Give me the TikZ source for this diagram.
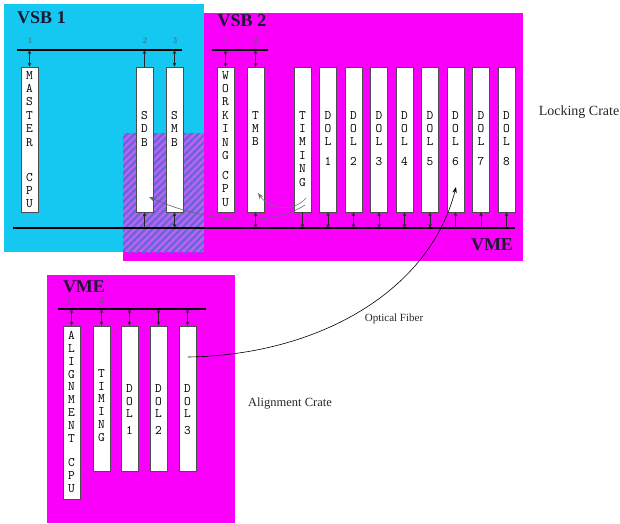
\documentclass[tikz,border=0pt]{standalone}
\usepackage{fontspec}
\setmainfont{Liberation Serif}
\usetikzlibrary{arrows.meta,patterns.meta}
\definecolor{cyanbg}{RGB}{20,200,242}
\definecolor{magbg}{RGB}{250,0,250}
\definecolor{hatchbg}{RGB}{185,100,235}
\definecolor{hatchln}{RGB}{100,100,225}
\definecolor{labclr}{RGB}{25,25,50}
\newcommand\cardfont{\ttfamily\fontsize{13}{13.4}\selectfont}
\newcommand\cardfontb{\ttfamily\fontsize{13}{12.9}\selectfont}
\begin{document}
\begin{tikzpicture}[x=1pt,y=-1pt,
  card/.style={draw=black!70, fill=white, line width=0.6pt, minimum width=17pt, inner sep=0pt},
  lcard/.style={card, minimum height=145pt},
  acard/.style={card, minimum height=145pt},
  ctxt/.style={font=\cardfont, align=center, inner sep=0pt, anchor=north},
  atxt/.style={font=\cardfontb, align=center, inner sep=0pt, anchor=north},
  bus/.style={line width=1.8pt, black},
  dbl/.style={{Stealth[length=4pt,width=3.5pt]}-{Stealth[length=4pt,width=3.5pt]}, line width=0.6pt, black!85},
  sgl/.style={-{Stealth[length=4pt,width=3.5pt]}, line width=0.6pt, black!85},
  curve/.style={-{Stealth[length=6pt,width=4.5pt]}, line width=0.6pt},
  bigl/.style={font=\bfseries\fontsize{18}{20}\selectfont, text=labclr, inner sep=0pt},
  numl/.style={font=\fontsize{8.5}{9}\selectfont, text=black!65, inner sep=0pt},
  crate/.style={text=black!85, inner sep=0pt}]
\useasboundingbox (0,0) rectangle (620,523);
% backgrounds
\fill[magbg] (123,13) rectangle (523,261);
\fill[cyanbg] (4,4) rectangle (204,252);
\fill[hatchbg] (123,133) rectangle (204,252);
\fill[pattern={Lines[angle=45,distance=5pt,line width=2.2pt]}, pattern color=hatchln] (123,133) rectangle (204,252);
\fill[magbg] (47,275) rectangle (235,523);

% titles
\node[bigl] (vsb1) at (41.5,17.5) {VSB 1};
\node[bigl] (vsb2) at (242,21) {VSB 2};
\node[bigl] (vme1) at (492,245) {VME};
\node[bigl] (vme2) at (84,287) {VME};
\node[crate, font=\fontsize{14}{16}\selectfont] (lock) at (579,112) {Locking Crate};
\node[crate, font=\fontsize{12.5}{15}\selectfont] (alig) at (290,404) {Alignment Crate};
\node[crate, font=\fontsize{11}{13}\selectfont] (opt) at (394,319) {Optical Fiber};

% buses
\coordinate (vsbAl) at (17,50);  \coordinate (vsbAr) at (182,50);
\coordinate (vsbBl) at (212,50); \coordinate (vsbBr) at (268,50);
\coordinate (vmeAl) at (13,228); \coordinate (vmeAr) at (515,228);
\coordinate (vmeBl) at (58,309); \coordinate (vmeBr) at (206,309);
\draw[bus] (vsbAl) -- (vsbAr);
\draw[bus] (vsbBl) -- (vsbBr);
\draw[bus] (vmeAl) -- (vmeAr);
\draw[bus] (vmeBl) -- (vmeBr);

% slot numbers
\node[numl] (n11) at (30,41) {1};
\node[numl] (n12) at (145,41) {2};
\node[numl] (n13) at (175,41) {3};
\node[numl] (n21) at (224,41) {1};
\node[numl] (n22) at (256,41) {2};
\node[numl] (n31) at (69,300.5) {1};
\node[numl] (n32) at (102,300.5) {2};

% locking crate cards
\node[lcard] (master) at (29.5,139.5) {};
\node[lcard] (sdb) at (144.5,139.5) {};
\node[lcard] (smb) at (174.5,139.5) {};
\node[lcard] (work) at (225.5,139.5) {};
\node[lcard] (tmb) at (255.5,139.5) {};
\node[lcard] (tim) at (302.5,139.5) {};
\node[lcard] (d1) at (328,139.5) {};
\node[lcard] (d2) at (353.5,139.5) {};
\node[lcard] (d3) at (379,139.5) {};
\node[lcard] (d4) at (404.5,139.5) {};
\node[lcard] (d5) at (430,139.5) {};
\node[lcard] (d6) at (455.5,139.5) {};
\node[lcard] (d7) at (481,139.5) {};
\node[lcard] (d8) at (506.5,139.5) {};

\node[ctxt] (masterT) at (29.5,71) {M\\A\\S\\T\\E\\R\\[21.6pt]C\\P\\U};
\node[ctxt] (sdbT) at (144.5,111) {S\\D\\B};
\node[ctxt] (smbT) at (174.5,111) {S\\M\\B};
\node[ctxt] (workT) at (225.5,71) {W\\O\\R\\K\\I\\N\\G\\[6.6pt]C\\P\\U};
\node[ctxt] (tmbT) at (255.5,111) {T\\M\\B};
\node[ctxt] (timT) at (302.5,111) {T\\I\\M\\I\\N\\G};
\foreach \k in {1,...,8}{
  \node[ctxt] (d\k T) at (d\k.north |- 0,111) {D\\O\\L\\[6.6pt]\k};
}

% alignment crate cards
\node[card, minimum height=173pt] (acpu) at (71.5,412.5) {};
\node[acard] (atim) at (101.5,398.5) {};
\node[acard] (ad1) at (129.5,398.5) {};
\node[acard] (ad2) at (158.5,398.5) {};
\node[acard] (ad3) at (187.5,398.5) {};
\node[atxt] (acpuT) at (71.5,331) {A\\L\\I\\G\\N\\M\\E\\N\\T\\[11pt]C\\P\\U};
\node[atxt] (atimT) at (101.5,369) {T\\I\\M\\I\\N\\G};
\node[atxt] (ad1T) at (129.5,384) {D\\O\\L\\[4pt]1};
\node[atxt] (ad2T) at (158.5,384) {D\\O\\L\\[4pt]2};
\node[atxt] (ad3T) at (187.5,384) {D\\O\\L\\[4pt]3};

% VSB 1 connections
\draw[dbl] (master.north) -- (master.north |- vsbAl);
\draw[sgl] (sdb.north) -- (sdb.north |- vsbAl);
\draw[dbl] (smb.north) -- (smb.north |- vsbAl);
% VSB 2 connections
\draw[dbl] (work.north) -- (work.north |- vsbBl);
\draw[dbl] (tmb.north) -- (tmb.north |- vsbBl);
% VME (locking) connections
\draw[sgl] (sdb.south |- vmeAl) -- (sdb.south);
\draw[dbl] (smb.south) -- (smb.south |- vmeAl);
\draw[dbl] (tmb.south) -- (tmb.south |- vmeAl);
\draw[sgl] (tim.south) -- (tim.south |- vmeAl);
\foreach \k in {1,...,5}{
  \draw[dbl] (d\k.south) -- (d\k.south |- vmeAl);
}
\foreach \k in {6,7,8}{
  \draw[sgl] (d\k.south |- vmeAl) -- (d\k.south);
}
% VME (alignment) connections
\foreach \n in {acpu,atim,ad1,ad2,ad3}{
  \draw[dbl] (\n.north) -- (\n.north |- vmeBl);
}

% curves
\coordinate (timA) at (306,198);
\coordinate (timB) at (305,205);
\coordinate (tmbIn) at (258,193);
\coordinate (sdbIn) at (149,197);
\coordinate (ad3Out) at (188,357);
\coordinate (d6In) at (456,187);
\draw[curve, black!55] (timA) .. controls (292,214) and (268,208) .. (tmbIn);
\draw[curve, black!60] (timB) .. controls (270,228) and (205,222) .. (sdbIn);
\draw[curve, black] (ad3Out) .. controls (320,355) and (430,290) .. (d6In);
\end{tikzpicture}
\end{document}
